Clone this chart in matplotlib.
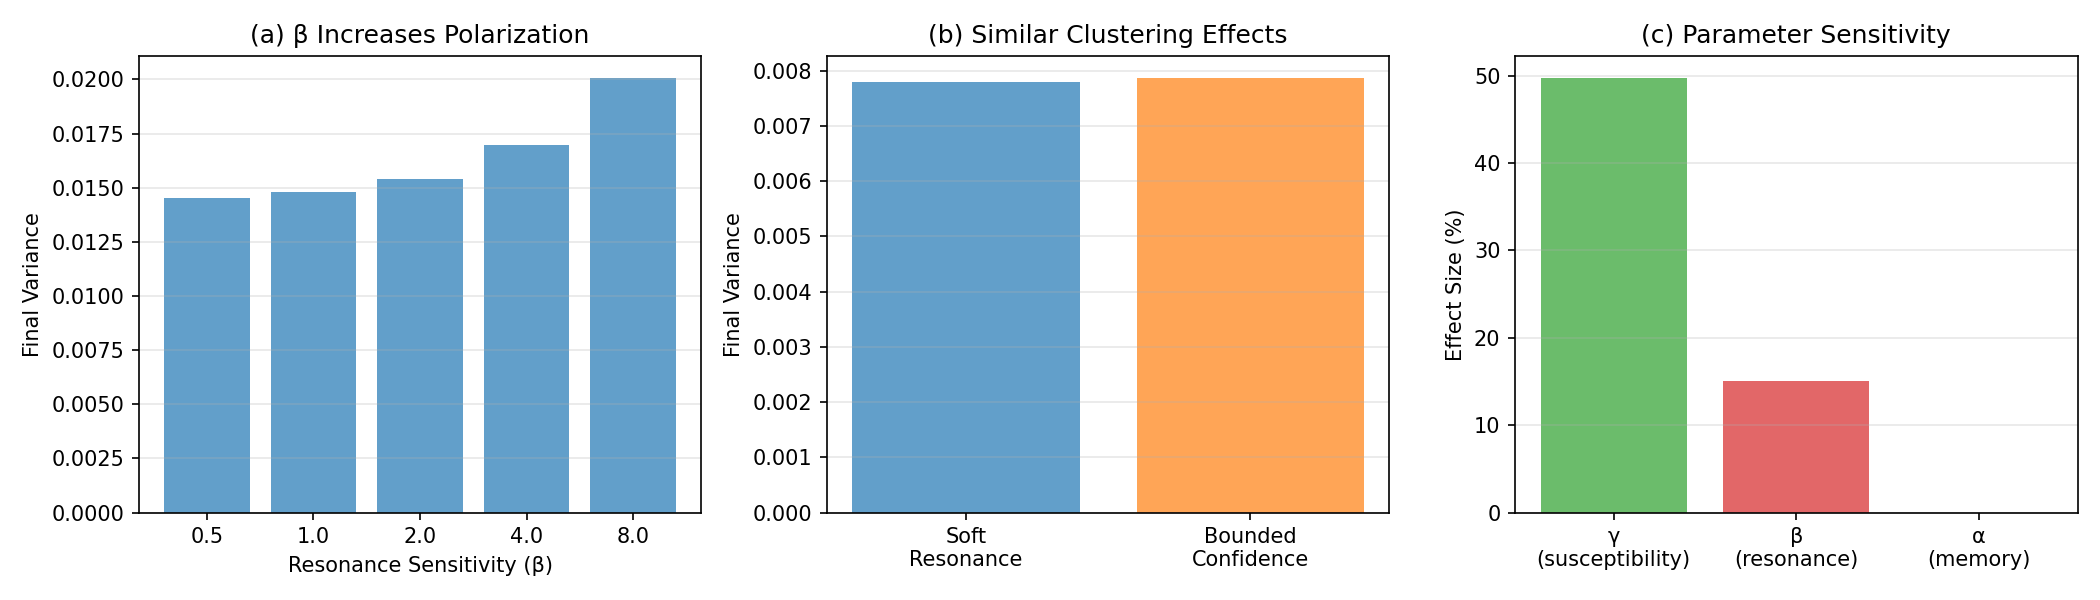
import matplotlib
matplotlib.use('Agg')
import matplotlib.pyplot as plt

# panel (a): final variance vs resonance sensitivity
beta_labels = ['0.5', '1.0', '2.0', '4.0', '8.0']
beta_variance = [0.01452, 0.01480, 0.01540, 0.01698, 0.02008]

# panel (b): model comparison
model_labels = ['Soft\nResonance', 'Bounded\nConfidence']
model_variance = [0.00780, 0.00787]

# panel (c): parameter sensitivity
param_labels = ['γ\n(susceptibility)', 'β\n(resonance)', 'α\n(memory)']
param_effect = [49.76, 15.1, 0.0]


def main():
    fig, axes = plt.subplots(1, 3, figsize=(14, 4))

    ax = axes[0]
    ax.bar(beta_labels, beta_variance, color='#1f77b4', alpha=0.7)
    ax.set_xlabel('Resonance Sensitivity (β)')
    ax.set_ylabel('Final Variance')
    ax.set_title('(a) β Increases Polarization')
    ax.grid(axis='y', alpha=0.3)

    ax = axes[1]
    ax.bar(model_labels, model_variance, color=['#1f77b4', '#ff7f0e'], alpha=0.7)
    ax.set_ylabel('Final Variance')
    ax.set_title('(b) Similar Clustering Effects')
    ax.grid(axis='y', alpha=0.3)

    ax = axes[2]
    ax.bar(param_labels, param_effect, color=['#2ca02c', '#d62728', '#1f77b4'], alpha=0.7)
    ax.set_ylabel('Effect Size (%)')
    ax.set_title('(c) Parameter Sensitivity')
    ax.grid(axis='y', alpha=0.3)

    plt.tight_layout()
    fig.savefig('out.png', dpi=150)


if __name__ == "__main__":
    main()
